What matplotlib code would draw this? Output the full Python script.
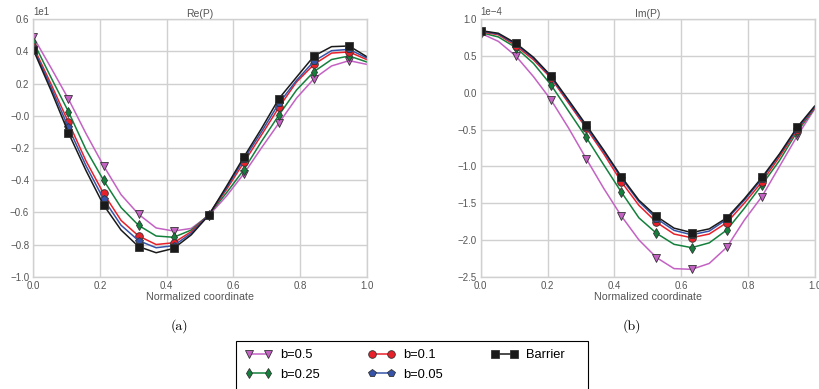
import numpy as np
import matplotlib
matplotlib.use("Agg")
import matplotlib.pyplot as plt
from matplotlib.patches import Rectangle

# x coordinates: 20 points from 0 to 1
n_points = 20
x = np.linspace(0, 1, n_points)

labels = ["b=0.5", "b=0.25", "b=0.1", "b=0.05", "Barrier"]
colors = ["#c462c4", "#13803c", "#e8202a", "#3553a8", "#1a1a1a"]
markers = ["v", "d", "o", "p", "s"]

# Re(P) in units of 1e1
re_b05 = [0.49, 0.30, 0.105, -0.11, -0.31, -0.49, -0.612, -0.697, -0.716, -0.70,
          -0.62, -0.50, -0.36, -0.20, -0.045, 0.11, 0.231, 0.31, 0.343, 0.32]
re_b025 = [0.46, 0.24, 0.026, -0.21, -0.40, -0.57, -0.681, -0.747, -0.755, -0.71,
           -0.615, -0.48, -0.335, -0.16, 0.005, 0.16, 0.275, 0.35, 0.372, 0.335]
re_b01 = [0.43, 0.20, -0.04, -0.28, -0.482, -0.65, -0.747, -0.80, -0.789, -0.72,
          -0.615, -0.46, -0.29, -0.12, 0.053, 0.21, 0.32, 0.39, 0.397, 0.35]
re_b005 = [0.42, 0.18, -0.072, -0.31, -0.517, -0.68, -0.776, -0.82, -0.807, -0.73,
           -0.615, -0.45, -0.27, -0.10, 0.078, 0.22, 0.34, 0.405, 0.413, 0.36]
re_barrier = [0.41, 0.16, -0.105, -0.34, -0.554, -0.71, -0.813, -0.851, -0.824, -0.74,
              -0.618, -0.44, -0.256, -0.08, 0.107, 0.24, 0.372, 0.43, 0.434, 0.368]

# Im(P) in units of 1e-4
im_b05 = [0.81, 0.70, 0.50, 0.22, -0.097, -0.48, -0.895, -1.30, -1.675, -2.00,
          -2.24, -2.39, -2.40, -2.32, -2.10, -1.73, -1.41, -1.00, -0.59, -0.22]
im_b025 = [0.82, 0.76, 0.615, 0.40, 0.107, -0.25, -0.605, -0.98, -1.35, -1.70,
           -1.91, -2.06, -2.105, -2.04, -1.865, -1.57, -1.25, -0.92, -0.53, -0.21]
im_b01 = [0.83, 0.79, 0.64, 0.45, 0.20, -0.14, -0.48, -0.83, -1.21, -1.53,
          -1.76, -1.92, -1.97, -1.92, -1.765, -1.50, -1.21, -0.87, -0.505, -0.20]
im_b005 = [0.84, 0.80, 0.66, 0.47, 0.215, -0.12, -0.46, -0.80, -1.16, -1.48,
           -1.71, -1.87, -1.93, -1.88, -1.72, -1.46, -1.17, -0.84, -0.49, -0.19]
im_barrier = [0.846, 0.81, 0.674, 0.483, 0.23, -0.10, -0.437, -0.78, -1.14, -1.46,
              -1.68, -1.84, -1.90, -1.85, -1.70, -1.44, -1.15, -0.83, -0.47, -0.18]

re_series = [re_b05, re_b025, re_b01, re_b005, re_barrier]
im_series = [im_b05, im_b025, im_b01, im_b005, im_barrier]

plt.rcParams['font.family'] = ['Liberation Sans', 'DejaVu Sans']

W, H = 819, 389
fig = plt.figure(figsize=(W / 100, H / 100), dpi=100)
ax1 = fig.add_axes([0.0407, 0.2887, 0.4070, 0.6617])
ax2 = fig.add_axes([0.5870, 0.2887, 0.4077, 0.6617])

grid_c = "#d0d0d0"
tick_c = "#555555"

def style(ax, title, ylim, yticks, offset):
    ax.set_xlim(0, 1)
    ax.set_ylim(*ylim)
    xt = np.arange(0, 1.01, 0.2)
    ax.set_xticks(xt)
    ax.set_yticks(yticks)
    ax.set_xticklabels([f"{v:.1f}" for v in xt])
    ax.set_yticklabels([f"{v:.1f}".replace("-", "\u2212") for v in yticks])
    ax.grid(True, color=grid_c, linewidth=1.0)
    ax.set_axisbelow(True)
    for s in ax.spines.values():
        s.set_color(grid_c)
        s.set_linewidth(1.0)
    ax.tick_params(length=0, labelsize=7, colors=tick_c, pad=3)
    ax.set_title(title, fontsize=7.5, color=tick_c, pad=2)
    ax.set_xlabel("Normalized coordinate", fontsize=7.7, color=tick_c, labelpad=1)
    ax.text(0.0, 1.01, offset, transform=ax.transAxes, fontsize=7, color=tick_c,
            ha="left", va="bottom")

handles = []
for ys, c, m, lab in zip(re_series, colors, markers, labels):
    h, = ax1.plot(x, ys, color=c, marker=m, markevery=2, markersize=5.5,
                  markeredgecolor="#333333", markeredgewidth=0.6, linewidth=1.1,
                  label=lab)
    handles.append(h)
for ys, c, m, lab in zip(im_series, colors, markers, labels):
    ax2.plot(x, ys, color=c, marker=m, markevery=2, markersize=5.5,
             markeredgecolor="#333333", markeredgewidth=0.6, linewidth=1.1,
             label=lab)

style(ax1, "Re(P)", (-1.0, 0.6), np.arange(-1.0, 0.61, 0.2), "1e1")
style(ax2, "Im(P)", (-2.5, 1.0), np.arange(-2.5, 1.01, 0.5), "1e\u22124")

fig.text(179 / W, 1 - 326 / H, "(a)", family=["cmr10", "DejaVu Serif"], fontsize=10,
         ha="center", va="center")
fig.text(632 / W, 1 - 326 / H, "(b)", family=["cmr10", "DejaVu Serif"], fontsize=10,
         ha="center", va="center")

leg = fig.legend(handles=handles, labels=labels, ncol=3, loc="upper left",
                 bbox_to_anchor=(245 / W, 1 - 349 / H), fontsize=9.3,
                 numpoints=2, frameon=False,
                 handlelength=2.1, columnspacing=3.75, borderpad=0.0,
                 labelspacing=0.6, handletextpad=0.6, borderaxespad=0)

# legend frame (extends past the bottom edge, as in the reference)
fig.patches.append(Rectangle((236 / W, 1 - 395 / H), (588 - 236) / W, (395 - 341) / H,
                             transform=fig.transFigure, fill=False,
                             edgecolor="black", linewidth=0.8))

fig.savefig("out.png", dpi=100)
